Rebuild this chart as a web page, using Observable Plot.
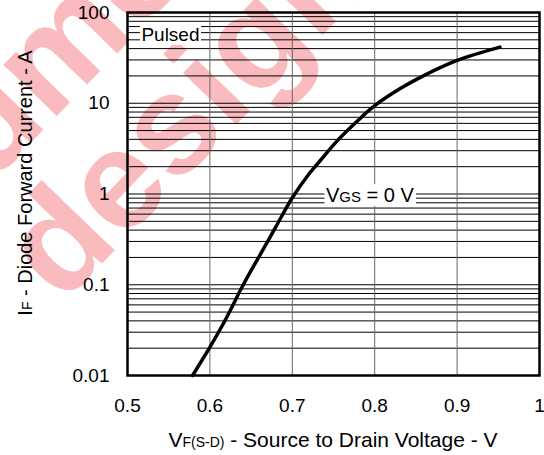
<!DOCTYPE html>
<html>
<head>
<meta charset="utf-8">
<script src="https://cdn.jsdelivr.net/npm/d3@7"></script>
<script src="https://cdn.jsdelivr.net/npm/@observablehq/plot@0.6"></script>
<style>
  html, body { margin: 0; padding: 0; background: white; }
  #wrap { position: relative; width: 544px; height: 455px; overflow: hidden; font-family: "Liberation Sans", Arial, sans-serif; }
  #wm { position: absolute; left: 0; top: 0; }
  #chart { position: absolute; left: 0; top: 0; }
</style>
</head>
<body>
<div id="wrap"><svg id="wm" width="544" height="455"></svg><div id="chart"></div></div>
<script>
// Data
const vf = [0.579, 0.600, 0.620, 0.640, 0.660, 0.680, 0.700, 0.720, 0.734, 0.755, 0.780, 0.800, 0.831, 0.856, 0.900, 0.952];
const iF = [0.01, 0.0205, 0.043, 0.098, 0.207, 0.434, 0.91, 1.65, 2.34, 3.9, 6.5, 9.4, 14.5, 19.4, 29.6, 41.5];
const xTicks = [0.5, 0.6, 0.7, 0.8, 0.9, 1];
const yTicks = [0.01, 0.1, 1, 10, 100];
const xGrid = [0.6, 0.7, 0.8, 0.9];
const decades = [0.01, 0.1, 1, 10];
const mult = [1, 2, 3, 4, 5, 6, 7, 8, 9];

const curve = vf.map((v, i) => ({v, i: iF[i]}));
const yGrid = decades.flatMap(d => mult.map(m => +(d * m).toPrecision(3))).filter(v => v > 0.01);

const FONT = "Liberation Sans, Arial, sans-serif";

const plot = Plot.plot({
  width: 544,
  height: 455,
  marginLeft: 127,
  marginRight: 5,
  marginTop: 12,
  marginBottom: 80,
  style: {background: "transparent", fontFamily: FONT, fontSize: "19px", color: "#000"},
  x: {domain: [0.5, 1], ticks: xTicks, tickFormat: d => String(d), tickSize: 0, tickPadding: 23, label: null},
  y: {type: "log", domain: [0.01, 100], ticks: yTicks, tickFormat: d => String(d), tickSize: 0, tickPadding: 18, label: null},
  marks: [
    Plot.ruleY(yGrid, {stroke: "#000", strokeWidth: 1}),
    Plot.ruleX(xGrid, {stroke: "#666", strokeWidth: 1}),
    Plot.line(curve, {x: "v", y: "i", stroke: "#000", strokeWidth: 3.5, curve: "catmull-rom"}),
    Plot.frame({stroke: "#000", strokeWidth: 2.5})
  ]
});
document.getElementById("chart").appendChild(plot);

const svg = d3.select(plot);
const sx = plot.scale("x"), sy = plot.scale("y");

function boxedLabel(x, y, parts, pad) {
  const g = svg.append("g");
  const rect = g.append("rect").attr("fill", "white");
  const t = g.append("text").attr("x", x).attr("y", y).attr("text-anchor", "start").attr("font-family", FONT).attr("fill", "#000");
  parts.forEach(p => t.append("tspan").attr("font-size", p[1]).text(p[0]));
  const b = t.node().getBBox();
  rect.attr("x", b.x - pad[0]).attr("y", b.y - pad[1]).attr("width", b.width + 2 * pad[0]).attr("height", b.height + 2 * pad[1]);
}
// "Pulsed" label
boxedLabel(sx.apply(0.5175), sy.apply(48), [["Pulsed", "19px"]], [1.5, 0]);
// "VGS = 0 V" label
boxedLabel(sx.apply(0.7415), sy.apply(0.805), [["V", "20px"], ["GS", "15px"], [" = 0 V", "20px"]], [1.5, 0]);

// Axis titles
const xt = svg.append("text").attr("x", 333).attr("y", 447).attr("text-anchor", "middle").attr("font-family", FONT).attr("font-size", "21px").attr("fill", "#000");
xt.append("tspan").text("V");
xt.append("tspan").attr("font-size", "14px").text("F(S-D)");
xt.append("tspan").text(" - Source to Drain Voltage - V");

const yt = svg.append("text").attr("transform", "translate(32,183) rotate(-90)").attr("text-anchor", "middle").attr("font-family", FONT).attr("font-size", "20px").attr("fill", "#000");
yt.append("tspan").text("I");
yt.append("tspan").attr("font-size", "14px").text("F");
yt.append("tspan").text(" - Diode Forward Current - A");

// Watermark behind the chart
const wm = d3.select("#wm");
const WMC = "rgba(240,30,40,0.3)";
wm.append("text").attr("transform", "translate(62,305) rotate(-46)").attr("font-family", FONT).attr("font-weight", "bold").attr("font-size", "140px").attr("fill", WMC).text("design");
wm.append("text").attr("transform", "translate(-150,330) rotate(-46)").attr("font-family", FONT).attr("font-weight", "bold").attr("font-size", "140px").attr("fill", WMC).text("volume");
</script>
</body>
</html>
